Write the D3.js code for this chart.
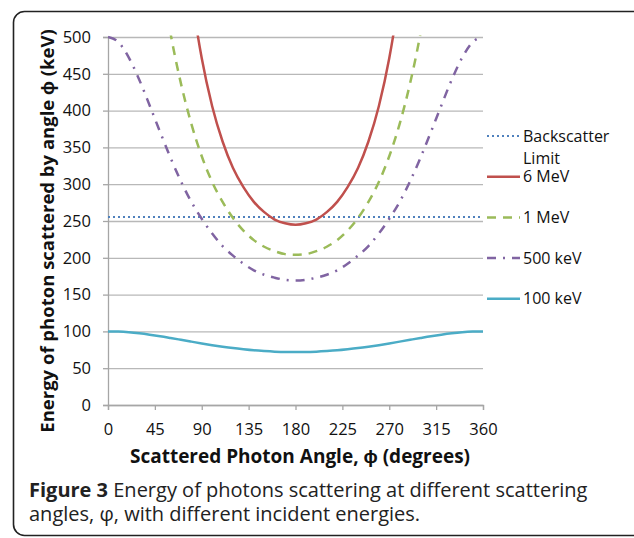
<!DOCTYPE html>
<html>
<head>
<meta charset="utf-8">
<script src="https://cdn.jsdelivr.net/npm/d3@7"></script>
<style>
  body { margin: 0; background: #fff; }
  svg { display: block; font-family: "Open Sans", sans-serif; }
</style>
</head>
<body>
<svg id="chart" width="634" height="538"></svg>
<script>
const angles = [0, 10, 20, 30, 40, 50, 60, 70, 80, 90, 100, 110, 120, 130, 140, 150, 160, 170, 180,
  190, 200, 210, 220, 230, 240, 250, 260, 270, 280, 290, 300, 310, 320, 330, 340, 350, 360];

// scattered photon energy (keV), estimated from the figure
const mev6 = [6000, 5091, 3513, 2332, 1601, 1155, 873, 688, 561, 471, 406, 358, 322, 296, 276, 262, 252, 247, 245,
  247, 252, 262, 276, 296, 322, 358, 406, 471, 561, 688, 873, 1155, 1601, 2332, 3513, 5091, 6000];
const mev1 = [1000, 971, 895, 792, 686, 589, 505, 437, 382, 338, 303, 276, 254, 237, 224, 215, 209, 205, 204,
  205, 209, 215, 224, 237, 254, 276, 303, 338, 382, 437, 505, 589, 686, 792, 895, 971, 1000];
const kev500 = [500, 493, 472, 442, 407, 371, 336, 304, 276, 253, 233, 216, 203, 192, 183, 177, 173, 170, 169,
  170, 173, 177, 183, 192, 203, 216, 233, 253, 276, 304, 336, 371, 407, 442, 472, 493, 500];
const kev100 = [100, 99.7, 98.8, 97.4, 95.6, 93.5, 91.1, 88.6, 86.1, 83.6, 81.3, 79.2, 77.3, 75.7, 74.3, 73.3, 72.5, 72.0, 71.9,
  72.0, 72.5, 73.3, 74.3, 75.7, 77.3, 79.2, 81.3, 83.6, 86.1, 88.6, 91.1, 93.5, 95.6, 97.4, 98.8, 99.7, 100];
const backscatterLimit = 255.5;

const xTicks = [0, 45, 90, 135, 180, 225, 270, 315, 360];
const yTicks = [0, 50, 100, 150, 200, 250, 300, 350, 400, 450, 500];

const legendLabels = ["Backscatter Limit", "6 MeV", "1 MeV", "500 keV", "100 keV"];

const svg = d3.select("#chart");

// rounded frame around the figure
svg.append("rect")
  .attr("x", 13.5).attr("y", 11.5)
  .attr("width", 640).attr("height", 524)
  .attr("rx", 11)
  .attr("fill", "none")
  .attr("stroke", "#222")
  .attr("stroke-width", 1.6);

const plot = { left: 108, right: 483, top: 37, bottom: 405 };

const x = d3.scaleLinear().domain([0, 360]).range([plot.left, plot.right]);
const y = d3.scaleLinear().domain([0, 500]).range([plot.bottom, plot.top]);

svg.append("clipPath").attr("id", "clip")
  .append("rect")
  .attr("x", plot.left).attr("y", plot.top - 1.5)
  .attr("width", plot.right - plot.left + 2).attr("height", plot.bottom - plot.top + 1.5);

// gridlines
svg.append("g")
  .attr("transform", `translate(${plot.left},0)`)
  .call(d3.axisLeft(y).tickValues(yTicks).tickFormat("").tickSize(-(plot.right - plot.left)))
  .call(g => g.select(".domain").remove())
  .call(g => g.selectAll(".tick line").attr("stroke", "#b8b8b8").attr("stroke-width", 1.3));

// y axis
svg.append("g")
  .attr("transform", `translate(${plot.left},0)`)
  .call(d3.axisLeft(y).tickValues(yTicks).tickSize(5).tickPadding(12))
  .call(g => g.select(".domain").attr("stroke", "#a6a6a6").attr("stroke-width", 1.3))
  .call(g => g.selectAll(".tick line").attr("stroke", "#a6a6a6").attr("stroke-width", 1.3))
  .call(g => g.selectAll("text").attr("font-size", 16.5).attr("fill", "#111")
    .attr("font-family", "'Open Sans', sans-serif"));

// x axis
svg.append("g")
  .attr("transform", `translate(0,${plot.bottom})`)
  .call(d3.axisBottom(x).tickValues(xTicks).tickSize(5).tickPadding(13))
  .call(g => g.select(".domain").attr("stroke", "#a6a6a6").attr("stroke-width", 1.3))
  .call(g => g.selectAll(".tick line").attr("stroke", "#a6a6a6").attr("stroke-width", 1.3))
  .call(g => g.selectAll("text").attr("font-size", 16.5).attr("fill", "#111")
    .attr("font-family", "'Open Sans', sans-serif"));

const series = [
  { values: null, color: "#4f81bd", dash: "2,3", width: 2 },
  { values: mev6, color: "#c0504d", dash: null, width: 2.5 },
  { values: mev1, color: "#9bbb59", dash: "9,7", width: 2.5 },
  { values: kev500, color: "#8064a2", dash: "9,7,2,7", width: 2.5 },
  { values: kev100, color: "#4bacc6", dash: null, width: 2.5 },
];

const line = d3.line()
  .x((d, i) => x(angles[i]))
  .y(d => y(d))
  .curve(d3.curveMonotoneX);

const lines = svg.append("g").attr("clip-path", "url(#clip)");

// backscatter limit
lines.append("line")
  .attr("x1", x(0)).attr("x2", x(360))
  .attr("y1", y(backscatterLimit)).attr("y2", y(backscatterLimit))
  .attr("stroke", series[0].color)
  .attr("stroke-width", series[0].width)
  .attr("stroke-dasharray", series[0].dash);

series.slice(1).forEach(s => {
  lines.append("path")
    .datum(s.values)
    .attr("d", line)
    .attr("fill", "none")
    .attr("stroke", s.color)
    .attr("stroke-width", s.width)
    .attr("stroke-dasharray", s.dash);
});

// legend
const legend = svg.append("g");
legendLabels.forEach((label, i) => {
  const s = series[i];
  const ly = 136 + i * 40.7;
  legend.append("line")
    .attr("x1", 487).attr("x2", 520)
    .attr("y1", ly).attr("y2", ly)
    .attr("stroke", s.color)
    .attr("stroke-width", s.width)
    .attr("stroke-dasharray", s.dash);
  const words = label === "Backscatter Limit" ? ["Backscatter", "Limit"] : [label];
  words.forEach((w, j) => {
    legend.append("text")
      .attr("x", 523).attr("y", ly + j * 22)
      .attr("dy", "0.35em")
      .attr("font-size", 16)
      .attr("fill", "#111")
      .text(w);
  });
});

// axis titles
svg.append("text")
  .attr("transform", `translate(54,${(plot.top + plot.bottom) / 2 + 10}) rotate(-90)`)
  .attr("text-anchor", "middle")
  .attr("font-size", 18.5)
  .attr("font-weight", "bold")
  .attr("fill", "#111")
  .text("Energy of photon scattered by angle ϕ (keV)");

svg.append("text")
  .attr("x", 300)
  .attr("y", 463)
  .attr("text-anchor", "middle")
  .attr("font-size", 19)
  .attr("font-weight", "bold")
  .attr("fill", "#111")
  .text("Scattered Photon Angle, ϕ (degrees)");

// caption
const caption = svg.append("text")
  .attr("x", 29).attr("y", 497)
  .attr("font-size", 20)
  .attr("fill", "#222");
caption.append("tspan").attr("font-weight", "bold").text("Figure 3");
caption.append("tspan").text(" Energy of photons scattering at different scattering");
svg.append("text")
  .attr("x", 29).attr("y", 521)
  .attr("font-size", 20)
  .attr("fill", "#222")
  .text("angles, φ, with different incident energies.");
</script>
</body>
</html>
